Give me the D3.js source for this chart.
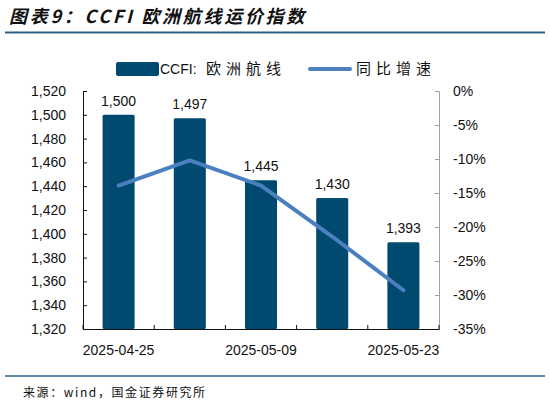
<!DOCTYPE html>
<html>
<head>
<meta charset="utf-8">
<script src="https://cdn.jsdelivr.net/npm/d3@7"></script>
<style>
  body { margin: 0; background: #fff; }
  text { font-family: "Liberation Sans", Arial, "Noto Sans CJK SC", sans-serif; }
</style>
</head>
<body>
<div id="chart"></div>
<script>
// data
var dates = ["2025-04-25", "2025-05-02", "2025-05-09", "2025-05-16", "2025-05-23"];
var ccfiEurope = [1500, 1497, 1445, 1430, 1393];
var yoyGrowth = [-0.139, -0.102, -0.139, -0.214, -0.293];
var leftTicks = [1320, 1340, 1360, 1380, 1400, 1420, 1440, 1460, 1480, 1500, 1520];
var rightTicks = [0, -0.05, -0.10, -0.15, -0.20, -0.25, -0.30, -0.35];
var xLabelDates = ["2025-04-25", "2025-05-09", "2025-05-23"];

var W = 550, H = 406;
var barColor = "#004a6f", lineColor = "#4a7fc0";

var svg = d3.select("#chart").append("svg")
  .attr("width", W)
  .attr("height", H);

svg.append("rect").attr("width", W).attr("height", H).attr("fill", "#fff");

// title
svg.append("text")
  .attr("x", 9)
  .attr("y", 23)
  .text("图表9：CCFI 欧洲航线运价指数")
  .style("font-family", "'Noto Sans CJK SC', sans-serif")
  .style("font-size", "18px")
  .style("font-weight", "bold")
  .style("font-style", "italic")
  .style("letter-spacing", "2.7px")
  .attr("fill", "#111");

svg.append("line")
  .attr("x1", 5).attr("x2", 545)
  .attr("y1", 32.5).attr("y2", 32.5)
  .attr("stroke", "#2b6183")
  .attr("stroke-width", 2);

// scales
var x = d3.scaleBand()
  .domain(dates)
  .range([83, 439])
  .paddingInner(0.55)
  .paddingOuter(0.275);

var y = d3.scaleLinear().domain([1320, 1520]).range([329, 91]);
var y2 = d3.scaleLinear().domain([-0.35, 0]).range([329, 91]);

// bars
svg.selectAll(".bar")
  .data(ccfiEurope)
  .enter()
  .append("rect")
  .attr("class", "bar")
  .attr("x", function (d, i) { return x(dates[i]); })
  .attr("y", function (d) { return y(d); })
  .attr("width", x.bandwidth())
  .attr("height", function (d) { return y(1320) - y(d); })
  .attr("rx", 1.5)
  .attr("fill", barColor);

// bar labels
svg.selectAll(".barLabel")
  .data(ccfiEurope)
  .enter()
  .append("text")
  .attr("class", "barLabel")
  .attr("x", function (d, i) { return x(dates[i]) + x.bandwidth() / 2; })
  .attr("y", function (d) { return y(d) - 9; })
  .attr("text-anchor", "middle")
  .style("font-size", "14px")
  .attr("fill", "#111")
  .text(function (d) { return d3.format(",")(d); });

// yoy line
var valueline = d3.line()
  .x(function (d, i) { return x(dates[i]) + x.bandwidth() / 2; })
  .y(function (d) { return y2(d); });

svg.append("path")
  .datum(yoyGrowth)
  .attr("fill", "none")
  .attr("stroke", lineColor)
  .attr("stroke-width", 4)
  .attr("stroke-linejoin", "round")
  .attr("stroke-linecap", "round")
  .attr("d", valueline);

// left axis
var gLeft = svg.append("g")
  .attr("transform", "translate(83,0)")
  .call(d3.axisLeft(y).tickValues(leftTicks).tickSize(-4).tickPadding(17)
    .tickFormat(d3.format(",")));
gLeft.selectAll("text").style("font-size", "14px").attr("fill", "#111");
gLeft.selectAll("line, path").attr("stroke", "#111");

// right axis
var gRight = svg.append("g")
  .attr("transform", "translate(439,0)")
  .call(d3.axisRight(y2).tickValues(rightTicks).tickSize(-4).tickPadding(14)
    .tickFormat(function (d) { return Math.round(d * 100) + "%"; }));
gRight.selectAll("text").style("font-size", "14px").attr("fill", "#111");
gRight.selectAll("line, path").attr("stroke", "#a0a0a0");

// bottom axis
var gBottom = svg.append("g")
  .attr("transform", "translate(0,329)")
  .call(d3.axisBottom(x).tickValues(xLabelDates).tickSize(0).tickPadding(16));
gBottom.selectAll("text").style("font-size", "14px").attr("fill", "#111");
gBottom.select(".domain").attr("stroke", "#111").attr("stroke-width", 1.2);

// category boundary ticks
var bounds = dates.map(function (d) { return x(d) - x.step() * x.paddingInner() / 2; });
bounds.push(x.range()[1]);
svg.selectAll(".bTick")
  .data(bounds)
  .enter()
  .append("line")
  .attr("class", "bTick")
  .attr("x1", function (d) { return d; })
  .attr("x2", function (d) { return d; })
  .attr("y1", 329)
  .attr("y2", 325)
  .attr("stroke", "#111");

// legend
var legend = svg.append("g").attr("class", "legend");
legend.append("rect")
  .attr("x", 116).attr("y", 62)
  .attr("width", 43).attr("height", 14)
  .attr("rx", 2)
  .attr("fill", barColor);
var lt1 = legend.append("text")
  .attr("x", 160).attr("y", 74)
  .style("font-size", "14px")
  .attr("fill", "#111");
lt1.append("tspan").text("CCFI:");
lt1.append("tspan")
  .attr("x", 206)
  .style("font-family", "'Noto Sans CJK SC', sans-serif")
  .style("font-size", "15px")
  .style("letter-spacing", "5px")
  .text("欧洲航线");
legend.append("line")
  .attr("x1", 310).attr("x2", 350)
  .attr("y1", 69).attr("y2", 69)
  .attr("stroke", lineColor)
  .attr("stroke-width", 4)
  .attr("stroke-linecap", "round");
legend.append("text")
  .attr("x", 356).attr("y", 74)
  .style("font-family", "'Noto Sans CJK SC', sans-serif")
  .style("font-size", "15px")
  .style("letter-spacing", "5px")
  .attr("fill", "#111")
  .text("同比增速");

// footer
svg.append("line")
  .attr("x1", 5).attr("x2", 545)
  .attr("y1", 376).attr("y2", 376)
  .attr("stroke", "#2b6183")
  .attr("stroke-width", 1.5);

svg.append("text")
  .attr("x", 23)
  .attr("y", 397)
  .style("font-family", "'Noto Sans CJK SC', monospace")
  .style("font-size", "12px")
  .style("letter-spacing", "1.6px")
  .attr("fill", "#111")
  .text("来源：wind，国金证券研究所");
</script>
</body>
</html>
